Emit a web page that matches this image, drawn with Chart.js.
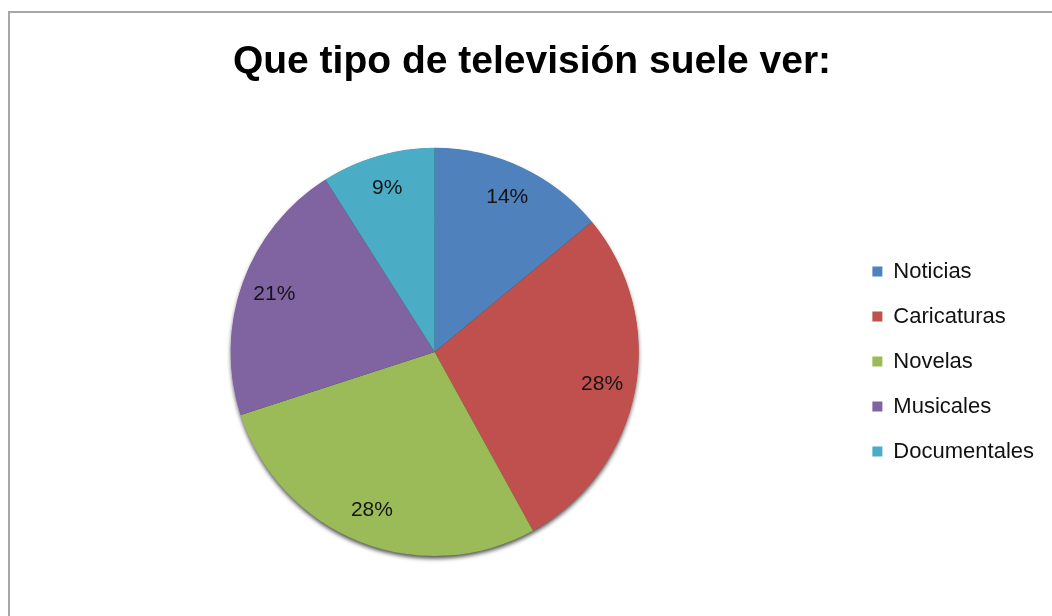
<!DOCTYPE html>
<html>
<head>
<meta charset="utf-8">
<script src="https://cdn.jsdelivr.net/npm/chart.js@4.4.0/dist/chart.umd.min.js"></script>
<style>
  html, body { margin: 0; padding: 0; background: #fff; overflow: hidden; }
  #wrap { position: relative; width: 1052px; height: 616px; }
  #frame { position: absolute; left: 8px; top: 11px; width: 1100px; height: 700px;
           border-top: 2px solid #a6a6a6; border-left: 2px solid #a6a6a6; box-sizing: border-box; }
  canvas { position: absolute; left: 0; top: 0; }
</style>
</head>
<body>
<div id="wrap">
  <div id="frame"></div>
  <canvas id="c" width="1052" height="616"></canvas>
</div>
<script>
const chartTitle = 'Que tipo de televisión suele ver:';
const categories = ['Noticias', 'Caricaturas', 'Novelas', 'Musicales', 'Documentales'];
const values = [14, 28, 28, 21, 9];
const colors = ['#4F81BD', '#C0504D', '#9BBB59', '#8064A2', '#4BACC6'];

const shadowPlugin = {
  id: 'pieShadow',
  beforeDatasetsDraw(chart) {
    const meta = chart.getDatasetMeta(0);
    const arc = meta.data[0];
    if (!arc) return;
    const ctx = chart.ctx;
    ctx.save();
    ctx.shadowColor = 'rgba(0,0,0,0.7)';
    ctx.shadowBlur = 4;
    ctx.shadowOffsetY = 3;
    ctx.beginPath();
    ctx.arc(arc.x, arc.y, arc.outerRadius - 0.5, 0, Math.PI * 2);
    ctx.fillStyle = '#2f3a1f';
    ctx.fill();
    ctx.restore();
  }
};

const labelPlugin = {
  id: 'pctLabels',
  afterDatasetsDraw(chart) {
    const meta = chart.getDatasetMeta(0);
    const data = chart.data.datasets[0].data;
    const total = data.reduce((a, b) => a + b, 0);
    const ctx = chart.ctx;
    ctx.save();
    ctx.font = '21px "Liberation Sans", Arial, sans-serif';
    ctx.fillStyle = '#141414';
    ctx.textAlign = 'center';
    ctx.textBaseline = 'middle';
    meta.data.forEach((arc, i) => {
      const mid = (arc.startAngle + arc.endAngle) / 2;
      const r = arc.outerRadius * 0.835;
      const x = arc.x + Math.cos(mid) * r;
      const y = arc.y + Math.sin(mid) * r;
      ctx.fillText(Math.round(data[i] / total * 100) + '%', x, y);
    });
    ctx.restore();
  }
};

new Chart(document.getElementById('c'), {
  type: 'pie',
  data: {
    labels: categories,
    datasets: [{
      data: values,
      backgroundColor: colors,
      borderColor: colors,
      borderWidth: 0,
      hoverOffset: 0
    }]
  },
  options: {
    responsive: false,
    animation: false,
    events: [],
    layout: { padding: { left: 20, right: 8, top: 0, bottom: 60 } },
    plugins: {
      title: {
        display: true,
        text: chartTitle,
        color: '#000',
        font: { family: '"Liberation Sans", Arial, sans-serif', size: 39, weight: 'bold', lineHeight: 1.2 },
        padding: { top: 39, bottom: 62 }
      },
      legend: {
        position: 'right',
        title: { display: true, text: '', padding: { top: 166, bottom: 0 }, font: { size: 1 } },
        labels: {
          boxWidth: 10,
          boxHeight: 10,
          padding: 23,
          color: '#111',
          font: { family: '"Liberation Sans", Arial, sans-serif', size: 22 }
        }
      },
      tooltip: { enabled: false }
    }
  },
  plugins: [shadowPlugin, labelPlugin]
});
</script>
</body>
</html>
